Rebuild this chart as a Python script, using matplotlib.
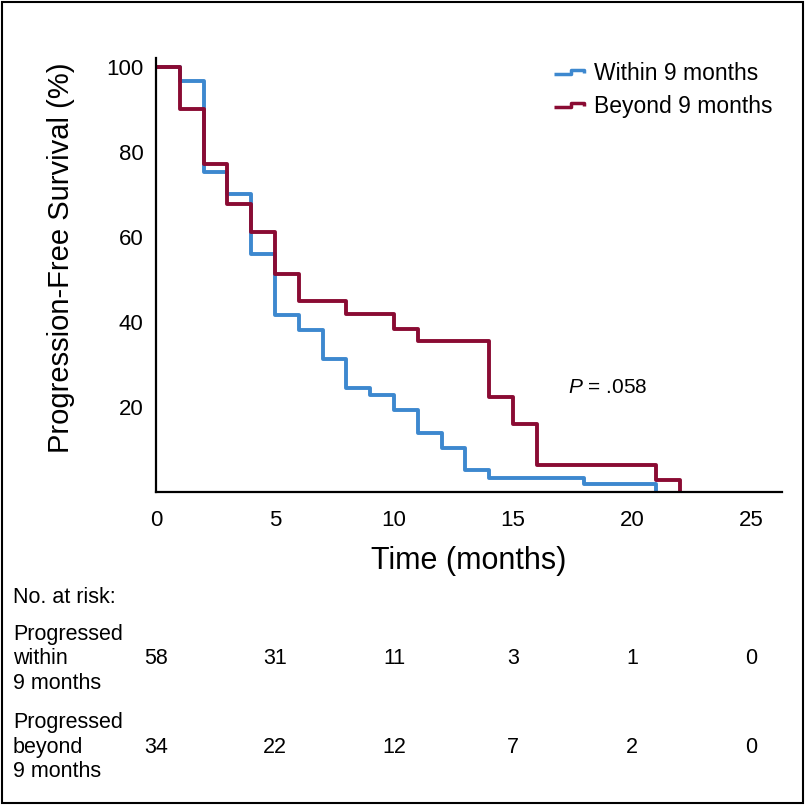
import matplotlib
matplotlib.use("Agg")
import matplotlib.pyplot as plt
import matplotlib.transforms as mtransforms
from matplotlib.path import Path
from matplotlib.lines import Line2D
from matplotlib.patches import Rectangle

# Kaplan-Meier steps
within_t = [0, 1, 2, 3, 4, 5, 6, 7, 8, 9, 10, 11, 12, 13, 14, 18, 21]
within_s = [100, 96.5, 75.2, 70, 56, 41.5, 38, 31.2, 24.5, 22.8, 19.3, 13.9, 10.4, 5.2, 3.3, 1.9, 0]
beyond_t = [0, 1, 2, 3, 4, 5, 6, 8, 10, 11, 14, 15, 16, 21, 22]
beyond_s = [100, 90, 77.2, 67.6, 61, 51.3, 45, 41.8, 38.3, 35.4, 22.4, 16, 6.3, 2.9, 0]

risk_times = [0, 5, 10, 15, 20, 25]
risk_within = [58, 31, 11, 3, 1, 0]
risk_beyond = [34, 22, 12, 7, 2, 0]

blue = "#3D88CF"
red = "#8A0B33"

plt.rcParams["font.family"] = ["Liberation Sans", "DejaVu Sans"]
plt.rcParams["mathtext.fontset"] = "custom"
plt.rcParams["mathtext.it"] = "Liberation Sans:italic"
plt.rcParams["mathtext.rm"] = "Liberation Sans"

fig = plt.figure(figsize=(8.05, 8.05), dpi=100)
ax = fig.add_axes([156 / 805, 1 - 492 / 805, 626 / 805, 434 / 805])

ax.plot(within_t, within_s, drawstyle="steps-post", color=blue, lw=2.8)
ax.plot(beyond_t, beyond_s, drawstyle="steps-post", color=red, lw=2.8)

ax.set_xlim(0, 26.3)
ax.set_ylim(0, 102)
ax.set_xticks([0, 5, 10, 15, 20, 25])
ax.set_yticks([20, 40, 60, 80, 100])
for s in ["top", "right"]:
    ax.spines[s].set_visible(False)
for s in ["left", "bottom"]:
    ax.spines[s].set_linewidth(1.6)
ax.tick_params(axis="both", length=0, labelsize=16)
ax.tick_params(axis="y", pad=9)
ax.tick_params(axis="x", pad=13)

ax.set_xlabel("Time (months)", fontsize=22)
ax.xaxis.set_label_coords(0.5, -0.125)
ax.set_ylabel("Progression-Free Survival (%)", fontsize=21)
ax.yaxis.set_label_coords(-0.13, 0.54)

ax.text(17.3, 24.6, "$P$ = .058", fontsize=15, va="center")

# step-shaped legend keys
step = Path([(-1, -0.15), (0.1, -0.15), (0.1, 0.15), (1, 0.15), (1, -0.05)],
            [Path.MOVETO, Path.LINETO, Path.LINETO, Path.LINETO, Path.LINETO])
handles = [Line2D([], [], ls="none", marker=step, markersize=22, mew=2.5,
                  mfc="none", mec=c) for c in (blue, red)]
ax.legend(handles, ["Within 9 months", "Beyond 9 months"], loc="upper right",
          bbox_to_anchor=(1.0, 1.013), frameon=False, fontsize=16.5,
          handlelength=1.4, handletextpad=0.4, labelspacing=0.45, borderaxespad=0)

# number at risk table
blend = mtransforms.blended_transform_factory(ax.transData, fig.transFigure)
fig.text(13 / 805, 1 - 597 / 805, "No. at risk:", fontsize=15.5, va="center")
rows = [("Progressed\nwithin\n9 months", risk_within, 659),
        ("Progressed\nbeyond\n9 months", risk_beyond, 747)]
for label, vals, ypx in rows:
    fig.text(13 / 805, 1 - ypx / 805, label, fontsize=15.5,
             va="center", linespacing=1.2)
    for t, v in zip(risk_times, vals):
        ax.text(t, 1 - ypx / 805, str(v), transform=blend,
                fontsize=15.5, ha="center", va="center")

fig.patches.append(Rectangle((0.002, 0.002), 0.996, 0.996, transform=fig.transFigure,
                             fill=False, lw=1.5, ec="black"))

fig.savefig("out.png", dpi=100)
